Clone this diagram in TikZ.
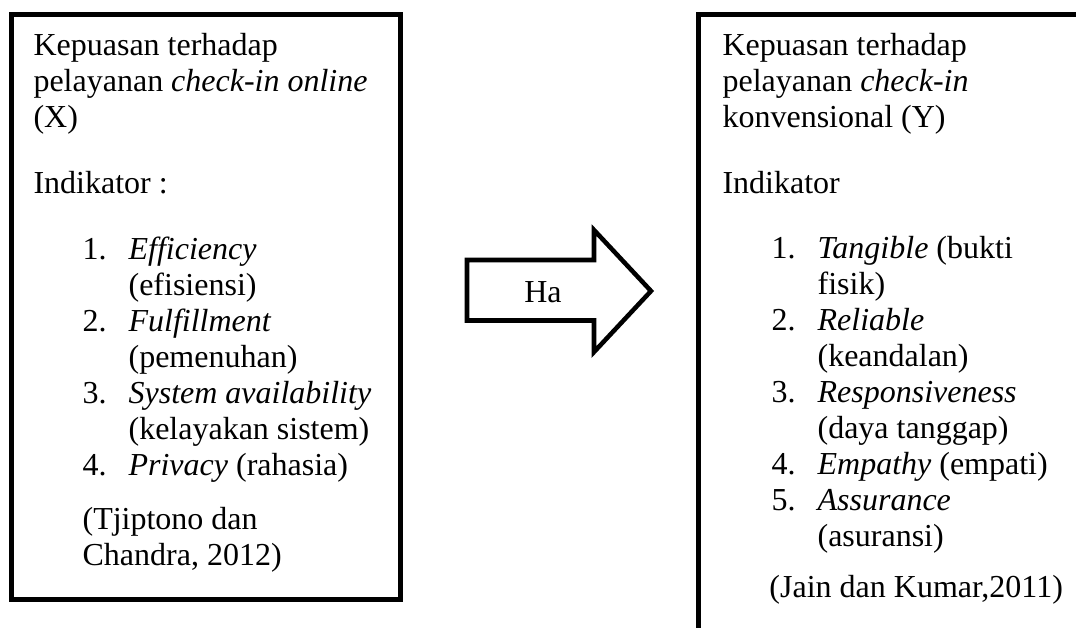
\documentclass[tikz,border=0pt]{standalone}
\usepackage{fontspec}
\setmainfont{Liberation Serif}
\usepackage{tikz}

\newcommand{\itm}[2]{\hspace*{18.4pt}\makebox[17.25pt][l]{#1}\textit{#2}}
\newcommand{\cnt}[1]{\hspace*{35.65pt}#1}

\begin{document}
\begin{tikzpicture}[x=0.375pt, y=-0.375pt]
\tikzstyle{Box}=[line width=1.875pt, miter limit=10]
\tikzstyle{BoxText}=[inner sep=0pt, anchor=north west, font=\fontsize{12}{13.5}\selectfont]
\tikzstyle{BigArrow}=[line width=1.7pt, fill=white]

\useasboundingbox (0,0) rectangle (1076,627);
\clip (0,0) rectangle (1076,627);

\draw[Box] (11,14.5) rectangle (400,599);
\draw[Box] (1090,14.5) -- (698,14.5) -- (698,640);

\node[BoxText] (X) at (33,29.8) {%
\begin{tabular}{@{}l@{}}
Kepuasan terhadap\\
pelayanan \textit{check-in online}\\
(X)\\[11.25pt]
Indikator :\\[11.25pt]
\itm{1.}{Efficiency}\\
\cnt{(efisiensi)}\\
\itm{2.}{Fulfillment}\\
\cnt{(pemenuhan)}\\
\itm{3.}{System availability}\\
\cnt{(kelayakan sistem)}\\
\itm{4.}{Privacy} (rahasia)\\[6.75pt]
\hspace*{18.4pt}(Tjiptono dan\\
\hspace*{18.4pt}Chandra, 2012)
\end{tabular}};

\node[BoxText] (Y) at (722,29.8) {%
\begin{tabular}{@{}l@{}}
Kepuasan terhadap\\
pelayanan \textit{check-in}\\
konvensional (Y)\\[11.25pt]
Indikator\\[11pt]
\itm{1.}{Tangible} (bukti\\
\cnt{fisik)}\\
\itm{2.}{Reliable}\\
\cnt{(keandalan)}\\
\itm{3.}{Responsiveness}\\
\cnt{(daya tanggap)}\\
\itm{4.}{Empathy} (empati)\\
\itm{5.}{Assurance}\\
\cnt{(asuransi)}\\[5.6pt]
\hspace*{17.6pt}(Jain dan Kumar,2011)
\end{tabular}};

\draw[BigArrow] (467,260) -- (594,260) -- (594,230) -- (651,291)
  -- (594,352) -- (594,320.5) -- (467,320.5) -- cycle;
\node[font=\fontsize{12}{13.5}\selectfont] (Ha) at (543,292) {Ha};

\end{tikzpicture}
\end{document}
